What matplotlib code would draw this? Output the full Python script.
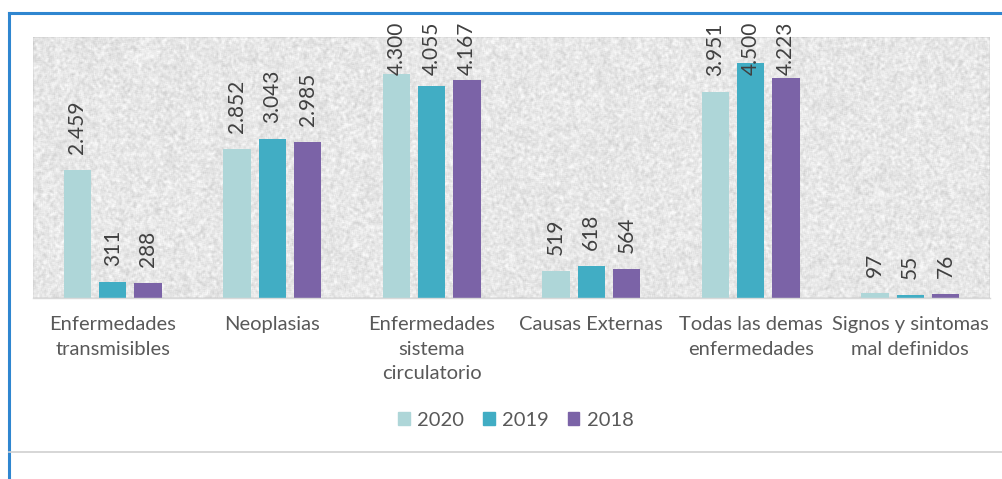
import numpy as np
import matplotlib
matplotlib.use("Agg")
import matplotlib.pyplot as plt
from matplotlib.lines import Line2D
from matplotlib.patches import Patch

categories = ["Enfermedades\ntransmisibles", "Neoplasias", "Enfermedades\nsistema\ncirculatorio",
              "Causas Externas", "Todas las demas\nenfermedades", "Signos y sintomas\nmal definidos"]
years = ["2020", "2019", "2018"]
v2020 = [2459, 2852, 4300, 519, 3951, 97]
v2019 = [311, 3043, 4055, 618, 4500, 55]
v2018 = [288, 2985, 4167, 564, 4223, 76]
labels2020 = ["2.459", "2.852", "4.300", "519", "3.951", "97"]
labels2019 = ["311", "3.043", "4.055", "618", "4.500", "55"]
labels2018 = ["288", "2.985", "4.167", "564", "4.223", "76"]

colors = ["#aed6d8", "#41adc4", "#7b63a7"]
plt.rcParams['font.family'] = ['Lato', 'DejaVu Sans']

W, H = 1002, 479
fig = plt.figure(figsize=(W / 100, H / 100), dpi=100)

# frame lines
fig.add_artist(Line2D([9 / W, 1.0], [1 - 13 / H, 1 - 13 / H], color="#2f86d0", lw=2.2))
fig.add_artist(Line2D([9 / W, 9 / W], [0, 1 - 13 / H], color="#2f86d0", lw=2.2))
fig.add_artist(Line2D([9 / W, 1.0], [1 - 452 / H, 1 - 452 / H], color="#d0d0d0", lw=1.2))

ax = fig.add_axes([33 / W, 1 - 298 / H, (990 - 33) / W, (298 - 37) / H])

# textured background (deterministic hash pattern)
yy, xx = np.mgrid[0:261, 0:957].astype(float)
noise = np.modf(np.abs(np.sin(xx * 12.9898 + yy * 78.233) * 43758.5453))[0]
k = np.ones(3) / 3
noise = np.apply_along_axis(lambda r: np.convolve(r, k, mode="same"), 1, noise)
noise = np.apply_along_axis(lambda c: np.convolve(c, k, mode="same"), 0, noise)
tex = 0.905 + (noise - noise.mean()) * 0.28
tex = np.clip(tex, 0.76, 0.98)
ax.imshow(tex, cmap="gray", vmin=0, vmax=1, extent=[-0.5, 5.5, 0, 5000],
          aspect="auto", zorder=0, interpolation="bilinear")

x = np.arange(len(categories))
w = 0.172
off = 0.222
cap = 3966
for i, (vals, labs) in enumerate([(v2020, labels2020), (v2019, labels2019), (v2018, labels2018)]):
    xs = x + (i - 1) * off
    ax.bar(xs, vals, width=w, color=colors[i], zorder=2, label=years[i])
    for xi, v, l in zip(xs, vals, labs):
        ax.annotate(l, (xi, min(v, cap)), xytext=(0, 16), textcoords="offset pixels", rotation=90,
                    ha="center", va="bottom", fontsize=15, color="#404040", zorder=3)

ax.set_xlim(-0.5, 5.5)
ax.set_ylim(0, 5000)
ax.set_yticks([])
ax.set_xticks(x)
ax.set_xticklabels(categories, fontsize=14.5, color="#595959", linespacing=1.55)
ax.tick_params(axis="x", length=0, pad=13)
for s in ["top", "right", "left"]:
    ax.spines[s].set_visible(False)
ax.spines["bottom"].set_color("#d9d9d9")
ax.spines["bottom"].set_linewidth(1)

handles = [Patch(color=c) for c in colors]
fig.legend(handles, years, loc="center", bbox_to_anchor=(516 / W, 1 - 420 / H), ncol=3,
           frameon=False, fontsize=14.5, handlelength=0.57, handleheight=0.57,
           handletextpad=0.36, columnspacing=0.95, labelcolor="#595959")

fig.savefig("out.png", dpi=100)
